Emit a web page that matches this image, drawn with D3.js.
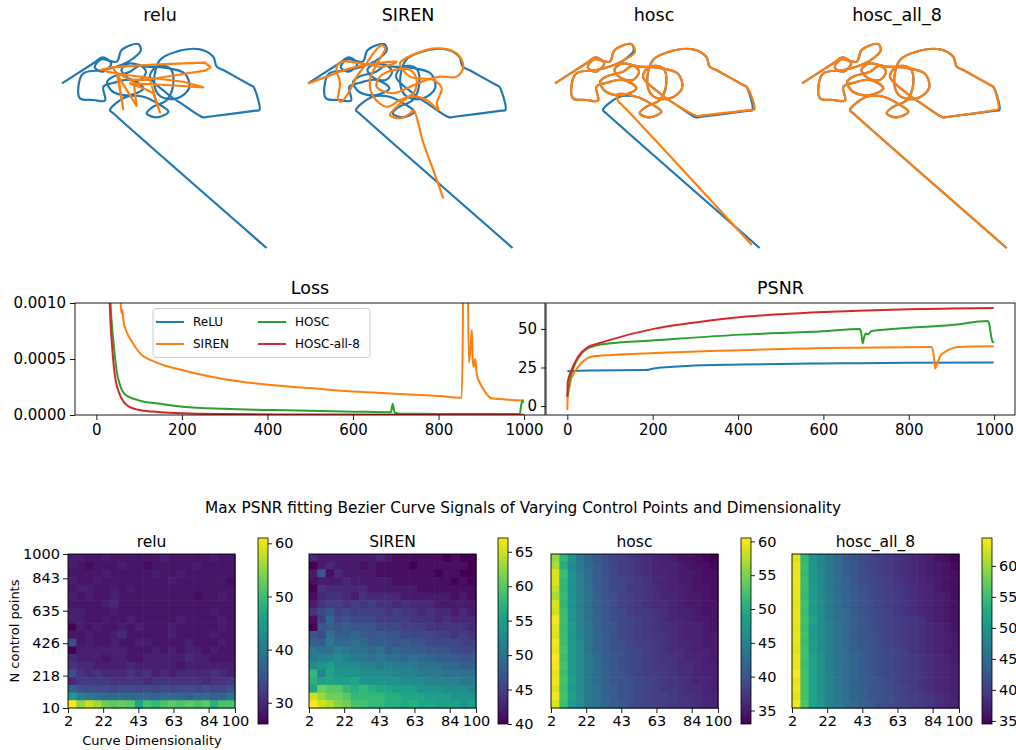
<!DOCTYPE html>
<html>
<head>
<meta charset="utf-8">
<script src="https://cdn.jsdelivr.net/npm/d3@7"></script>
<style>
  body { margin: 0; background: #fff; }
  text { font-family: "DejaVu Sans", sans-serif; fill: #000; }
</style>
</head>
<body>
<script>
// ---------- data ----------
var model_names = ['relu', 'SIREN', 'hosc', 'hosc_all_8'];
var legend_names = ['ReLU', 'SIREN', 'HOSC', 'HOSC-all-8'];
var colors = ['#1f77b4', '#ff7f0e', '#2ca02c', '#d62728'];

// target bezier curve (percent of the panel box, y downward)
var target_curve = [[0,19.7],[15.3,9.9],[20,7],[24,10],[20,14],[16,12],[19,8],[26.7,9.1],[29.1,3.4],[37.2,0.5],[38.4,3.7],[33.2,8.6],[26.7,11.5],[20.2,13.2],[10.4,14.8],[8,21.3],[8.8,27],[15.3,27.8],[21,28.1],[20.2,21.3],[25,19.5],[33.2,18],[39.7,22.1],[33.2,25.4],[25,23.9],[22,19],[25,16.4],[33.2,14],[38,11],[41,14],[38,18],[32,17],[29,13],[33,10],[41.3,11.5],[50,12],[60,15],[62,22],[56,27],[48,26],[45,20],[47.8,8.3],[55.9,4.2],[67.3,3.1],[73.8,6.7],[75.4,11.5],[78.7,13.2],[80,13.9],[92,20.6],[93.3,21.3],[96.3,32.7],[94.5,33],[70.5,36.1],[68.9,36.3],[59.2,30.2],[51.1,24.5],[42.9,16.4],[46.2,11.5],[52.7,12.3],[54.3,19.7],[51.1,27.8],[44.5,31.1],[41.3,34.3],[46.2,36.3],[51.9,33.5],[47.8,30.2],[39.7,26.2],[31.6,26.2],[23.4,32.7],[25,34.3],[99.8,100]];

var pred_relu = [[18.5,13.2],[24.2,11.9],[42.9,10.7],[59.2,9.9],[69.8,9.6],[72.5,11.9],[69.8,13.5],[55.9,15.6],[42.9,17.7],[33.2,18],[26.7,14.5],[29.9,32.4],[27.5,16.4],[25,12.4],[36.4,30.7],[34.8,18],[42.9,18],[47.8,34],[44.5,24.5],[39.7,22.1],[33.2,19.7],[51.1,20.5],[68.9,21.6],[59.2,18.9],[31.6,15.6],[21.8,14],[20.1,12.8]];

var pred_siren = [[0.2,19.7],[9.1,16.4],[20.5,12.4],[33.5,9.9],[43.3,9.1],[36.7,11.5],[25.4,9.9],[17.2,9.1],[14,11.5],[15.6,19.7],[14.8,27.8],[16.4,28.6],[20.5,22.9],[23.7,16.4],[28.6,9.9],[31.9,5],[35.9,1],[37.6,2.6],[34.3,9.1],[30.2,18],[31.9,26.2],[38.4,31.1],[44.9,27.8],[51.4,24.5],[53,18],[49.8,13.2],[41.6,13.2],[35.1,16.4],[33.5,21.3],[41.6,24.5],[49.8,21.3],[57.9,18],[64.4,16.4],[72.5,16.4],[75.8,11.5],[72.5,5],[62.8,2.6],[53,5],[44.9,9.9],[49.8,16.4],[61.1,18],[65.2,22.1],[62.8,29.4],[63.6,32.7],[57.9,27.8],[49.8,26.2],[43.3,31.1],[40,35.1],[44.9,36.7],[49.8,34.3],[51.4,32.7],[56.3,48.9],[61.1,62],[66,75.8]];

var pred_hosc = [[0,19.7],[15.3,9.9],[20,7],[24,10],[20,14],[16,12],[19,8],[26.7,9.1],[29.1,3.4],[37.2,0.5],[39,4.5],[33.2,8.6],[26.7,11.5],[20.2,13.2],[10.4,14.8],[8,21.3],[8.8,27],[15.3,27.8],[21,28.1],[20.2,21.3],[25,19.5],[33.2,18],[39.7,22.1],[33.2,25.4],[25,23.9],[22,19],[25,16.4],[33.2,14],[38,11],[41,14],[38,18],[32,17],[29,13],[33,10],[41.3,11.5],[50,12],[60,15],[62,22],[56,27],[48,26],[45,20],[47.8,8.3],[55.9,4.2],[67.3,3.1],[73.8,6.7],[75.4,11.5],[78.7,13.2],[80,13.9],[92,20.6],[93.6,21.5],[97.3,32.3],[95.5,32.6],[71,35.4],[69.4,35.6],[59.2,30.2],[51.1,24.5],[42.9,16.4],[46.2,11.5],[52.7,12.3],[54.3,19.7],[51.1,27.8],[44.5,31.1],[41.3,34.3],[46.2,36.3],[51.9,33.5],[47.8,30.2],[39.7,26.2],[30.5,25],[30.9,28.6],[32.5,30],[96,98.5]];

var pred_hosc_all_8 = [[0,19.7],[15.3,9.9],[20,7],[24,10],[20,14],[16,12],[19,8],[26.7,9.1],[29.1,3.4],[37.2,0.5],[38.4,3.7],[33.2,8.6],[26.7,11.5],[20.2,13.2],[10.4,14.8],[8,21.3],[8.8,27],[15.3,27.8],[21,28.1],[20.2,21.3],[25,19.5],[33.2,18],[39.7,22.1],[33.2,25.4],[25,23.9],[22,19],[25,16.4],[33.2,14],[38,11],[41,14],[38,18],[32,17],[29,13],[33,10],[41.3,11.5],[50,12],[60,15],[62,22],[56,27],[48,26],[45,20],[47.8,8.3],[55.9,4.2],[67.3,3.1],[73.8,6.7],[75.4,11.5],[78.7,13.2],[80,13.9],[92,20.6],[93.2,21.3],[95.8,32.3],[94.2,32.7],[70.5,36.1],[68.9,36.3],[59.2,30.2],[51.1,24.5],[42.9,16.4],[46.2,11.5],[52.7,12.3],[54.3,19.7],[51.1,27.8],[44.5,31.1],[41.3,34.3],[46.2,36.3],[51.9,33.5],[47.8,30.2],[39.7,26.2],[31.6,26.2],[23.4,32.7],[25,34.3],[99.8,100]];

// training loss, [step, mse]
var loss_relu = [[0,0.05],[50,0.02],[200,0.012],[1000,0.008]];
var loss_siren = [[0,0.3],[30,0.01],[45,0.003],[55,0.0011],[57,0.00098],[59,0.00091],[61,0.00094],[63,0.00085],[70,0.00075],[84,0.00065],[100,0.00056],[140,0.00047],[202,0.0004],[300,0.00032],[402,0.00027],[500,0.00024],[601,0.00021],[700,0.00019],[801,0.00017],[854,0.000155],[857,0.0008],[859,0.0025],[866,0.003],[869,0.0011],[871,0.00047],[875,0.0006],[878,0.00076],[880,0.0005],[882,0.00043],[886,0.0005],[890,0.00035],[899,0.00027],[910,0.0002],[923,0.00015],[950,0.00014],[1000,0.00013]];
var loss_hosc = [[0,0.2],[20,0.003],[33,0.001],[40,0.00065],[48,0.00038],[55,0.00027],[68,0.00018],[100,0.00013],[150,0.0001],[202,0.000074],[300,0.000055],[402,0.000045],[500,0.000037],[601,0.00003],[689,0.000025],[691,0.00007],[693,0.0001],[695,0.00006],[698,0.00002],[710,0.000012],[800,0.00001],[990,0.000008],[993,0.00008],[996,0.00013],[999,0.00011]];
var loss_hosc_all_8 = [[0,0.2],[20,0.003],[31,0.001],[37,0.0006],[43,0.00036],[55,0.00018],[76,0.000074],[100,0.000045],[150,0.000025],[202,0.000015],[300,0.000008],[500,0.000004],[1000,0.000002]];

// PSNR, [step, dB]
var psnr_relu = [[0,22.6],[50,23],[184,23.3],[202,24.3],[240,25.3],[280,26],[405,26.9],[600,27.6],[795,28],[999,28.2]];
var psnr_siren = [[0,-2.5],[1,7],[3,9],[4,14],[5,12],[8,17],[13,20],[25,25.4],[40,29.7],[56,31.9],[72,32.5],[96,33],[205,34.4],[408,36.2],[603,37.7],[853,38.3],[858,34],[862,24.3],[866,27],[873,32],[882,34.5],[892,36.2],[915,38.3],[999,38.7]];
var psnr_hosc = [[0,6],[5,15.7],[17,26.5],[33,34],[56,38.3],[96,40.5],[205,42.6],[408,46.3],[600,48.5],[685,50],[689,47],[692,40.5],[695,44],[699,47],[705,46.5],[712,48.5],[740,49.5],[800,50.8],[900,52.5],[985,55.2],[988,54],[994,44],[997,41.3],[999,42]];
var psnr_hosc_all_8 = [[0,6],[1,15.7],[8,22],[25,31.9],[48,38.3],[72,40.5],[96,42.6],[205,50.2],[300,54.2],[408,57.7],[500,59.5],[603,60.9],[700,61.9],[798,62.7],[900,63.2],[999,63.5]];

var step_ticks = [0, 200, 400, 600, 800, 1000];
var loss_ticks = [0, 0.0005, 0.001];
var psnr_ticks = [0, 25, 50];

// heatmap axes
var curve_dims = [2,7.16,12.32,17.47,22.63,27.79,32.95,38.11,43.26,48.42,53.58,58.74,63.89,69.05,74.21,79.37,84.53,89.68,94.84,100];
var n_points = [10,62.1,114.2,166.3,218.4,270.5,322.6,374.7,426.8,478.9,531.1,583.2,635.3,687.4,739.5,791.6,843.7,895.8,947.9,1000];
var tick_index = [0, 4, 8, 12, 16, 19];

// max PSNR grids, rows listed from 1000 control points (top) down to 10 (bottom)
var grid_relu = [
 [29,29,28,28,29,28,28,28,28,28,28,29,28,28,28,28,28,29,28,28],
 [29,28,27,28,28,28,29,28,28,27,28,28,28,28,28,29,28,28,28,28],
 [28,28,28,28,29,28,28,28,28,28,29,28,28,29,28,28,28,28,28,28],
 [29,28,28,29,28,28,28,28,28,28,28,28,29,28,28,28,28,28,28,27],
 [28,29,29,28,28,29,28,29,28,28,28,28,28,28,28,28,28,28,28,28],
 [29,28,29,28,28,29,28,28,28,28,28,28,28,28,28,27,28,28,29,28],
 [28,28,28,28,29,30,28,28,28,28,28,28,28,28,28,28,28,28,28,28],
 [29,29,28,28,28,29,28,28,28,28,28,28,28,28,28,28,28,29,28,28],
 [29,29,28,28,29,28,28,29,28,28,28,28,28,29,28,28,28,28,29,28],
 [26,29,28,29,28,28,29,28,29,28,28,28,29,28,28,28,28,28,29,28],
 [28,28,29,28,28,29,30,28,28,28,28,28,29,28,28,28,28,29,28,28],
 [34,28,29,28,28,29,28,28,29,29,28,28,28,28,29,28,28,28,29,28],
 [26,29,29,29,29,29,29,28,28,28,29,28,29,28,29,29,28,29,28,28],
 [30,29,29,29,28,29,29,28,28,29,29,29,29,29,30,29,29,28,28,28],
 [31,30,30,29,29,29,29,30,29,29,29,29,29,28,29,29,29,29,29,29],
 [34,31,30,31,30,30,30,31,30,31,29,30,29,30,30,30,30,31,30,29],
 [30,32,32,32,32,31,31,31,31,30,31,31,31,31,31,31,30,31,31,32],
 [37,35,34,34,34,33,34,34,33,34,33,34,33,34,34,33,34,33,33,35],
 [45,41,40,39,38,38,38,38,38,38,37,38,38,38,37,38,38,37,37,39],
 [61,55,58,56,53,52,53,52,46,51,49,51,52,51,52,51,52,48,51,51]
];
var grid_siren = [
 [43,42,42,42,42,42,42,42,43,42,41,41,41,41,41,41,40,41,40,40],
 [40,42,43,42,42,42,41,42,41,41,41,41,40,41,41,41,41,41,41,40],
 [42,47,41,43,42,42,42,42,41,41,41,41,41,41,41,40,41,41,40,40],
 [41,42,42,42,43,42,42,42,42,42,41,41,41,41,41,41,41,40,41,40],
 [40,44,43,43,43,43,43,42,42,42,42,42,42,41,41,41,41,41,41,41],
 [41,43,44,44,43,42,44,43,43,43,43,42,42,42,42,42,42,41,42,41],
 [42,44,45,45,44,45,44,45,44,44,43,44,43,43,43,42,42,42,42,42],
 [44,46,47,45,46,45,45,45,45,44,45,44,44,43,44,43,43,42,43,42],
 [41,45,49,46,47,46,46,46,45,45,45,45,44,44,44,43,44,43,43,43],
 [40,47,48,47,48,47,47,47,46,46,46,45,45,45,44,44,44,44,44,43],
 [47,46,50,48,48,49,48,47,48,47,47,46,46,46,46,45,45,44,45,44],
 [48,48,51,49,49,50,49,48,48,48,47,48,47,47,46,46,46,46,45,45],
 [51,50,50,52,51,50,50,49,50,48,49,48,48,48,47,47,47,46,46,46],
 [51,52,52,53,52,51,51,50,51,50,50,49,50,49,49,48,48,48,47,47],
 [53,54,55,53,53,53,52,52,51,52,51,51,51,50,50,50,49,49,48,48],
 [58,52,56,54,54,54,53,53,53,53,52,52,52,51,51,51,50,50,50,50],
 [57,55,56,55,55,56,54,54,54,54,54,53,53,53,52,52,52,52,51,51],
 [56,61,60,60,58,57,58,57,56,56,55,55,55,54,54,54,53,53,53,52],
 [65,63,61,61,60,58,58,58,58,57,57,56,56,56,55,55,55,54,54,54],
 [67,65,64,62,61,59,59,58,58,57,57,56,57,56,56,55,55,55,54,55]
];
var grid_hosc = [
 [56,51,47,44,42,40.5,39.5,38.5,38,37.5,37,36.5,36,35.5,35,34.5,34.5,34,33.5,33],
 [57,50,46,44,42.5,41,39.5,39,38,37.5,37,36.5,36,35.5,35.5,35,34.5,34,34,33.5],
 [59,52,47,44.5,42.5,41,40,39,38,37.5,37,36.5,36,36,35.5,35,35,34.5,34,34],
 [59,51,47,45,42.5,41,40,39,38.5,38,37.5,37,36,36,35.5,35,35,34.5,34,34],
 [58,51,47,45,43,41,40,39,38.5,37.5,37.5,37,36.5,36,35.5,35.5,35,34.5,34.5,34],
 [57,51.5,47.5,45,43,41.5,40,39.5,38.5,38,37.5,37,36.5,36,36,35.5,35,35,34.5,34],
 [59,51,47,45,43,41.5,40.5,39.5,38.5,38,37.5,37,36.5,36.5,36,35.5,35,35,34.5,34.5],
 [58.5,52,47.5,45.5,43,41.5,40.5,39.5,39,38,37.5,37.5,37,36.5,36,35.5,35.5,35,34.5,34.5],
 [60,52,47.5,45.5,43,42,40.5,39.5,39,38.5,38,37.5,37,36.5,36,36,35.5,35,35,34.5],
 [59.5,51.5,48,45.5,43.5,42,40.5,40,39,38.5,38,37.5,37,36.5,36.5,36,35.5,35.5,35,34.5],
 [59,52,47.5,45.5,43.5,42,41,40,39,38.5,38,37.5,37,37,36.5,36,35.5,35.5,35,35],
 [60,52,48,46,43.5,42,41,40,39.5,38.5,38,38,37.5,37,36.5,36,36,35.5,35,35],
 [59.5,52.5,48,46,43.5,42,41,40,39.5,39,38.5,38,37.5,37,36.5,36.5,36,35.5,35.5,35],
 [60.5,52,48,46,44,42.5,41,40.5,39.5,39,38.5,38,37.5,37,37,36.5,36,36,35.5,35],
 [60,52.5,48,46,44,42.5,41.5,40.5,39.5,39,38.5,38,37.5,37.5,37,36.5,36.5,36,35.5,35.5],
 [59.5,52,48,46,44,42.5,41.5,40.5,40,39,38.5,38,38,37.5,37,36.5,36.5,36,35.5,35.5],
 [60,52.5,48.5,46,44,42.5,41.5,40.5,40,39.5,39,38.5,38,37.5,37,37,36.5,36,36,35.5],
 [59,52,48,46,44,43,41.5,41,40,39.5,39,38.5,38,37.5,37.5,37,36.5,36.5,36,35.5],
 [60,52.5,48.5,46.5,44,43,42,41,40,39.5,39,38.5,38,38,37.5,37,37,36.5,36,36],
 [59,52,48,46,44,43,42,41,40.5,39.5,39,38.5,38,38,37.5,37,37,36.5,36,36]
];
var grid_hosc_all_8 = [
 [63,54.5,50,48,46,44.5,43,42,41,40.5,40,39.5,39,38.5,38,37.5,37,36,35.5,34.5],
 [63.5,55,50.5,48,46.5,45,43.5,42.5,41.5,40.5,40,39.5,39,38.5,38,37.5,37,36.5,36,35],
 [63.5,54.5,50.5,48.5,46.5,45,43.5,42.5,41.5,41,40,39.5,39,38.5,38,37.5,37,36.5,36,35.5],
 [64,55,50.5,48.5,46.5,45,44,42.5,41.5,41,40.5,40,39,38.5,38,37.5,37,36.5,36,35.5],
 [63.5,55,51,48.5,46.5,45,44,43,42,41,40.5,40,39.5,39,38.5,38,37.5,36.5,36,35.5],
 [63.5,54.5,51,48.5,47,45.5,44,43,42,41,40.5,40,39.5,39,38.5,38,37.5,37,36.5,35.5],
 [63,55.5,51,49,47,45.5,44,43,42,41.5,40.5,40,39.5,39,38.5,38,37.5,37,36.5,36],
 [63.5,55,51,49,47,45.5,44.5,43,42,41.5,41,40.5,39.5,39,38.5,38,37.5,37,36.5,36],
 [63.5,55.5,51.5,49,47,45.5,44.5,43.5,42.5,41.5,41,40.5,40,39.5,39,38.5,37.5,37,36.5,36],
 [63,55,51,49,47.5,46,44.5,43.5,42.5,41.5,41,40.5,40,39.5,39,38.5,38,37.5,37,36],
 [63.5,55.5,51,49,47.5,46,44.5,43.5,42.5,42,41,40.5,40,39.5,39,38.5,38,37.5,37,36.5],
 [63.5,55,51.5,49,47.5,46,44.5,43.5,42.5,42,41.5,40.5,40,39.5,39,38.5,38,37.5,37,36.5],
 [63,55.5,51,49,47.5,46,45,43.5,43,42,41.5,41,40.5,40,39,38.5,38,37.5,37,36.5],
 [63.5,55.5,51.5,49.5,47.5,46,45,44,43,42,41.5,41,40.5,40,39.5,39,38.5,38,37.5,36.5],
 [63.5,55,51.5,49.5,47.5,46,45,44,43,42,41.5,41,40.5,40,39.5,39,38.5,38,37.5,37],
 [64.5,55.5,51.5,49.5,48,46.5,45,44,43,42.5,41.5,41,40.5,40,39.5,39,38.5,38,37.5,37],
 [63.5,55.5,51.5,49.5,48,46.5,45,44,43,42.5,42,41,40.5,40,39.5,39,38.5,38,37.5,37],
 [64,55.5,51.5,49.5,48,46.5,45,44,43.5,42.5,42,41.5,41,40.5,39.5,39,38.5,38,37.5,37],
 [63,55.5,52,49.5,48,46.5,45.5,44,43.5,42.5,42,41.5,41,40.5,40,39.5,39,38.5,38,37],
 [64,56,51.5,50,48,46.5,45.5,44.5,43.5,43,42,41.5,41,40.5,40,39.5,39,38.5,38,37.5]
];
var colorbar_ticks = [[30,40,50,60],[40,45,50,55,60,65],[35,40,45,50,55,60],[35,40,45,50,55,60]];

// ---------- drawing ----------
var svg = d3.select('body').append('svg').attr('width', 1016).attr('height', 750);

function style_axis(g, fs)  {
	g.select('.domain').remove();
	g.selectAll('.tick line').attr('stroke', '#000').attr('stroke-width', 0.9);
	g.selectAll('.tick text').style('font-size', fs + 'px').attr('fill', '#000');
}

// top row: target curve (blue) vs fitted curve (orange)
var preds = [pred_relu, pred_siren, pred_hosc, pred_hosc_all_8];
var top_left = [62, 308, 555, 802], title_x = [160, 408, 654, 897];
for(var p = 0; p < 4; p++)  {
	var xs = d3.scaleLinear().domain([0,100]).range([top_left[p], top_left[p]+205]);
	var ys = d3.scaleLinear().domain([0,100]).range([43, 248]);
	var smooth = d3.line().x(d => xs(d[0])).y(d => ys(d[1])).curve(d3.curveCatmullRom.alpha(0.5));
	var sharp = d3.line().x(d => xs(d[0])).y(d => ys(d[1]));
	svg.append('path').attr('d', smooth(target_curve)).attr('fill', 'none')
		.attr('stroke', colors[0]).attr('stroke-width', 2.2).attr('stroke-linejoin', 'round');
	svg.append('path').attr('d', (p == 0 ? sharp : smooth)(preds[p])).attr('fill', 'none')
		.attr('stroke', colors[1]).attr('stroke-width', 2.2).attr('stroke-linejoin', 'round');
	svg.append('text').attr('x', title_x[p]).attr('y', 21).attr('text-anchor', 'middle')
		.style('font-size', '17.5px').text(model_names[p]);
}

// loss + psnr panels
function line_panel(series, left, right, y_dom, y_ticks, y_fmt, title, white_bg, clip_id)  {
	var top = 303, bottom = 415;
	var x = d3.scaleLinear().domain([-50, 1049]).range([left, right]);
	var y = d3.scaleLinear().domain(y_dom).range([bottom, top]);
	if(white_bg)
		svg.append('rect').attr('x', left).attr('y', top).attr('width', right-left).attr('height', bottom-top).attr('fill', '#fff');
	svg.append('clipPath').attr('id', clip_id).append('rect')
		.attr('x', left).attr('y', top).attr('width', right-left).attr('height', bottom-top);
	var line = d3.line().x(d => x(d[0])).y(d => y(d[1])).curve(d3.curveMonotoneX);
	var g = svg.append('g').attr('clip-path', 'url(#' + clip_id + ')');
	for(var s = 0; s < series.length; s++)
		g.append('path').attr('d', line(series[s])).attr('fill', 'none')
			.attr('stroke', colors[s]).attr('stroke-width', 2).attr('stroke-linejoin', 'round');
	style_axis(svg.append('g').attr('transform', 'translate(0,' + bottom + ')')
		.call(d3.axisBottom(x).tickValues(step_ticks).tickFormat(d3.format('d')).tickSize(5).tickPadding(4)), 15);
	style_axis(svg.append('g').attr('transform', 'translate(' + left + ',0)')
		.call(d3.axisLeft(y).tickValues(y_ticks).tickFormat(y_fmt).tickSize(5).tickPadding(4)), 15);
	svg.append('rect').attr('x', left).attr('y', top).attr('width', right-left).attr('height', bottom-top)
		.attr('fill', 'none').attr('stroke', '#000').attr('stroke-width', 0.9);
	svg.append('text').attr('x', (left+right)/2).attr('y', 294).attr('text-anchor', 'middle')
		.style('font-size', '17.5px').text(title);
}

line_panel([loss_relu, loss_siren, loss_hosc, loss_hosc_all_8], 75, 545, [0, 0.001], loss_ticks, d3.format('.4f'), 'Loss', false, 'clip_loss');

// legend of the loss panel
var legend = svg.append('g');
legend.append('rect').attr('x', 153).attr('y', 308.5).attr('width', 217).attr('height', 49).attr('rx', 3)
	.attr('fill', '#fff').attr('fill-opacity', 0.8).attr('stroke', '#cccccc');
legend_names.forEach(function(name, i)  {
	var lx = i < 2 ? 156 : 258, ly = i % 2 == 0 ? 322 : 344;
	legend.append('line').attr('x1', lx).attr('x2', lx+28).attr('y1', ly).attr('y2', ly)
		.attr('stroke', colors[i]).attr('stroke-width', 2);
	legend.append('text').attr('x', lx+37).attr('y', ly).attr('dominant-baseline', 'central')
		.style('font-size', '12px').text(name);
});

var psnr_all = [psnr_relu, psnr_siren, psnr_hosc, psnr_hosc_all_8];
var psnr_ext = d3.extent(d3.merge(psnr_all), d => d[1]);
var pad = (psnr_ext[1]-psnr_ext[0])*0.05;
line_panel(psnr_all, 546, 1015, [psnr_ext[0]-pad, psnr_ext[1]+pad], psnr_ticks, d3.format('d'), 'PSNR', true, 'clip_psnr');

// suptitle of the heatmap row
svg.append('text').attr('x', 523).attr('y', 513).attr('text-anchor', 'middle')
	.style('font-size', '15.3px').text('Max PSNR fitting Bezier Curve Signals of Varying Control Points and Dimensionality');

// heatmaps
var grids = [grid_relu, grid_siren, grid_hosc, grid_hosc_all_8];
var hm_left = [68, 309, 551, 792], cb_left = [258, 498, 741, 982];
var hm_top = 554, hm_bottom = 708, cb_top = 538, cb_bottom = 724;
var defs = svg.append('defs');
for(var h = 0; h < 4; h++)  {
	var grid = grids[h];
	var ext = d3.extent(d3.merge(grid));
	var color = d3.scaleSequential(d3.interpolateViridis).domain(ext);
	var xb = d3.scaleBand().domain(d3.range(20)).range([hm_left[h], hm_left[h]+167]);
	var yb = d3.scaleBand().domain(d3.range(20)).range([hm_top, hm_bottom]);
	var cells = [];
	grid.forEach(function(row, r)  { row.forEach(function(v, c)  { cells.push({r: r, c: c, v: v}); }); });
	svg.append('g').selectAll('rect').data(cells).enter().append('rect')
		.attr('x', d => xb(d.c)).attr('y', d => yb(d.r))
		.attr('width', xb.bandwidth()+0.6).attr('height', yb.bandwidth()+0.6)
		.attr('fill', d => color(d.v));
	svg.append('rect').attr('x', hm_left[h]).attr('y', hm_top).attr('width', 167).attr('height', hm_bottom-hm_top)
		.attr('fill', 'none').attr('stroke', '#000').attr('stroke-width', 0.9);

	var xd = d3.scaleLinear().domain([2, 100]).range([hm_left[h], hm_left[h]+167]);
	style_axis(svg.append('g').attr('transform', 'translate(0,' + hm_bottom + ')')
		.call(d3.axisBottom(xd).tickValues(tick_index.map(i => curve_dims[i]))
			.tickFormat(d => Math.trunc(d)).tickSize(5).tickPadding(3)), 14.5);
	if(h == 0)  {
		var yd = d3.scaleLinear().domain([10, 1000]).range([hm_bottom, hm_top]);
		style_axis(svg.append('g').attr('transform', 'translate(' + hm_left[h] + ',0)')
			.call(d3.axisLeft(yd).tickValues(tick_index.map(i => n_points[i]))
				.tickFormat(d => Math.trunc(d)).tickSize(5).tickPadding(3)), 14.5);
	}
	svg.append('text').attr('x', hm_left[h]+83.5).attr('y', 547).attr('text-anchor', 'middle')
		.style('font-size', '15.5px').text(model_names[h]);

	// colorbar
	var grad = defs.append('linearGradient').attr('id', 'cb' + h)
		.attr('x1', 0).attr('y1', 1).attr('x2', 0).attr('y2', 0);
	d3.range(0, 1.0001, 0.05).forEach(function(t)  {
		grad.append('stop').attr('offset', t).attr('stop-color', d3.interpolateViridis(t));
	});
	svg.append('rect').attr('x', cb_left[h]).attr('y', cb_top).attr('width', 10).attr('height', cb_bottom-cb_top)
		.attr('fill', 'url(#cb' + h + ')').attr('stroke', '#000').attr('stroke-width', 0.8);
	var cy = d3.scaleLinear().domain(ext).range([cb_bottom, cb_top]);
	style_axis(svg.append('g').attr('transform', 'translate(' + (cb_left[h]+10) + ',0)')
		.call(d3.axisRight(cy).tickValues(colorbar_ticks[h]).tickSize(4).tickPadding(3)), 14.5);
}

svg.append('text').attr('transform', 'translate(19,631) rotate(-90)').attr('text-anchor', 'middle')
	.style('font-size', '13px').text('N control points');
svg.append('text').attr('x', 152).attr('y', 745).attr('text-anchor', 'middle')
	.style('font-size', '13px').text('Curve Dimensionality');
</script>
</body>
</html>
